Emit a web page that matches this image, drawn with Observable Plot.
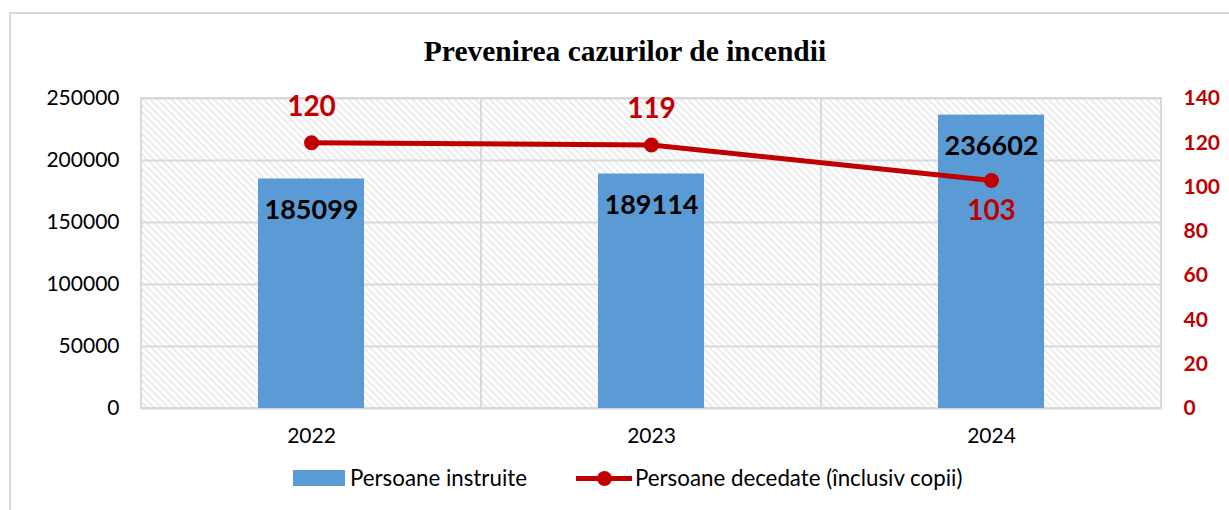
<!DOCTYPE html>
<html>
<head>
<meta charset="utf-8">
<script src="https://cdn.jsdelivr.net/npm/d3@7"></script>
<script src="https://cdn.jsdelivr.net/npm/@observablehq/plot@0.6"></script>
<style>
  html, body { margin: 0; padding: 0; background: #fff; overflow: hidden; }
  #wrap { position: relative; width: 1229px; height: 510px; }
  #border { position: absolute; left: 9px; top: 12px; width: 1240px; height: 520px; border: 2px solid #d9d9d9; box-sizing: border-box; }
  #title { position: absolute; left: 0; width: 1250px; top: 37px; line-height: 1; text-align: center; font-family: "Liberation Serif", serif; font-weight: bold; font-size: 29.5px; color: #000; }
  #legend { position: absolute; top: 464px; left: 293px; display: flex; align-items: center; font-family: Lato, sans-serif; font-size: 22.3px; color: #000; }
  .sw { display: inline-block; width: 52px; height: 16px; background: #5B9BD5; margin-right: 5px; }
  .ln { position: relative; display: inline-block; width: 56px; height: 16px; margin-left: 49px; margin-right: 3px; }
  .ln::before { content: ""; position: absolute; left: 0; right: 0; top: 6px; height: 5px; background: #C00000; }
  .ln::after { content: ""; position: absolute; left: 21px; top: 1px; width: 15px; height: 15px; border-radius: 50%; background: #C00000; }
  #chart { position: absolute; left: 0; top: 0; }
</style>
</head>
<body>
<div id="wrap">
  <div id="border"></div>
  <div id="chart"></div>
  <div id="title">Prevenirea cazurilor de incendii</div>
  <div id="legend"><span class="sw"></span><span>Persoane instruite</span><span class="ln"></span><span>Persoane decedate (înclusiv copii)</span></div>
</div>
<script>
const years = ["2022", "2023", "2024"];
const instruite = [185099, 189114, 236602];
const decedate = [120, 119, 103];
const leftTicks = [0, 50000, 100000, 150000, 200000, 250000];
const rightTicks = [0, 20, 40, 60, 80, 100, 120, 140];

const leftMax = 250000, rightMax = 140;
const k = leftMax / rightMax;

const rows = years.map((y, i) => ({year: y, inst: instruite[i], dec: decedate[i], decScaled: decedate[i] * k}));

const hatch = (index, scales, values, dims) => {
  const ns = "http://www.w3.org/2000/svg";
  const g = document.createElementNS(ns, "g");
  const defs = document.createElementNS(ns, "defs");
  const pat = document.createElementNS(ns, "pattern");
  pat.setAttribute("id", "hatch");
  pat.setAttribute("width", "5");
  pat.setAttribute("height", "5");
  pat.setAttribute("patternUnits", "userSpaceOnUse");
  pat.setAttribute("patternTransform", "rotate(-45)");
  const l = document.createElementNS(ns, "rect");
  l.setAttribute("x", "0"); l.setAttribute("y", "0");
  l.setAttribute("width", "2"); l.setAttribute("height", "5");
  l.setAttribute("fill", "#ececec");
  pat.appendChild(l);
  defs.appendChild(pat);
  g.appendChild(defs);
  const r = document.createElementNS(ns, "rect");
  r.setAttribute("x", dims.marginLeft);
  r.setAttribute("y", dims.marginTop);
  r.setAttribute("width", dims.width - dims.marginLeft - dims.marginRight);
  r.setAttribute("height", dims.height - dims.marginTop - dims.marginBottom);
  r.setAttribute("fill", "url(#hatch)");
  g.appendChild(r);
  return g;
};

const chart = Plot.plot({
  width: 1229,
  height: 510,
  marginLeft: 141,
  marginRight: 68,
  marginTop: 98,
  marginBottom: 102,
  style: {fontFamily: "Lato, sans-serif", background: "transparent"},
  x: {domain: years, padding: 0, label: null},
  y: {domain: [0, leftMax], label: null},
  marks: [
    hatch,
    Plot.gridY(leftTicks, {stroke: "#d9d9d9", strokeOpacity: 1, strokeWidth: 2}),
    Plot.barY(rows, {x: "year", y1: 0, y2: leftMax, fill: "none", stroke: "#d9d9d9", strokeWidth: 2}),
    Plot.barY(rows, {x: "year", y: "inst", fill: "#5B9BD5", insetLeft: 117, insetRight: 117}),
    Plot.axisY(leftTicks, {anchor: "left", tickSize: 0, tickPadding: 22, fontSize: 21, fill: "#000", tickFormat: d => String(d), label: null}),
    Plot.axisY(rightTicks.map(v => v * k), {anchor: "right", tickSize: 0, tickPadding: 22, fontSize: 21, fontWeight: "bold", fill: "#C00000", tickFormat: d => String(Math.round(d / k)), textAnchor: "start", label: null}),
    Plot.axisX({tickSize: 0, tickPadding: 20, fontSize: 21, fill: "#000", label: null}),
    Plot.text(rows, {x: "year", y: "inst", text: d => String(d.inst), dy: 31, fontSize: 27, fontWeight: "bold", fill: "#000"}),
    Plot.line(rows, {x: "year", y: "decScaled", stroke: "#C00000", strokeWidth: 5}),
    Plot.dot(rows, {x: "year", y: "decScaled", r: 7.5, fill: "#C00000"}),
    Plot.text(rows, {filter: (d, i) => i < rows.length - 1, x: "year", y: "decScaled", text: d => String(d.dec), dy: -36, fontSize: 28, fontWeight: "bold", fill: "#C00000"}),
    Plot.text(rows, {filter: (d, i) => i === rows.length - 1, x: "year", y: "decScaled", text: d => String(d.dec), dy: 31, fontSize: 28, fontWeight: "bold", fill: "#C00000"})
  ]
});
document.getElementById("chart").appendChild(chart);
</script>
</body>
</html>
